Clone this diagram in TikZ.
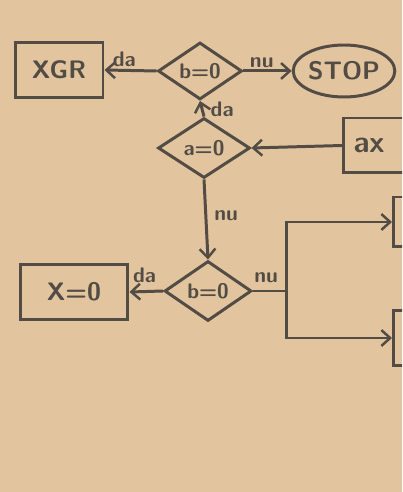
\documentclass[tikz,border=0pt]{standalone}
\usepackage{tikz}
\usetikzlibrary{arrows.meta,positioning,calc,shapes.geometric}
\usepackage{xcolor}
\definecolor{Paper}{HTML}{E2C59F}
\definecolor{Pencil}{HTML}{524C44}

\begin{document}
\begin{tikzpicture}[x=0.02cm,y=-0.02cm,
  line width=1.7pt,draw=Pencil,text=Pencil,
  >={Straight Barb[length=5pt,width=9pt,line width=1.4pt]},
  box/.style={draw,rectangle,inner sep=0pt,font=\sffamily\bfseries\Large},
  test/.style={draw,diamond,inner sep=0pt,font=\sffamily\bfseries\large},
  lab/.style={font=\sffamily\bfseries\large,inner sep=1pt}]
\fill[Paper] (0,0) rectangle (402,492);
\useasboundingbox (0,0) rectangle (402,492);
\clip (0,0) rectangle (402,492);
% top row
\node[box,minimum width=1.76cm,minimum height=1.1cm] (xgr) at (59,70) {XGR};
\node[test,minimum width=1.68cm,minimum height=1.14cm] (bt) at (200,71) {b=0};
\node[draw,ellipse,inner sep=0pt,minimum width=1.76cm,minimum height=1.04cm,font=\sffamily\bfseries\Large] (stop) at (344,71) {STOP};
% middle
\node[test,minimum width=1.84cm,minimum height=1.2cm] (az) at (204,148) {a=0};
\node[box,anchor=west,text width=1.6cm,align=left,inner xsep=0.2cm,minimum height=1.1cm,font=\sffamily\bfseries\LARGE] (ax) at (342,145.5) {ax};
% bottom
\node[test,minimum width=1.74cm,minimum height=1.2cm] (bb) at (208,291) {b=0};
\node[box,minimum width=2.16cm,minimum height=1.1cm] (xz) at (74,292) {X=0};
\node[box,anchor=west,minimum width=2cm,minimum height=1.0cm] (ra) at (392,222) {};
\node[box,anchor=west,minimum width=2cm,minimum height=1.1cm] (rb) at (392,338) {};
\coordinate (sp) at (286,291);
% connectors
\draw[->] (bt.west) -- node[lab,pos=0.62,above] {da} (xgr.east);
\draw[->] (bt.east) -- node[lab,pos=0.38,above] {nu} (stop.west);
\draw[->] (az.north) -- node[lab,pos=0.45,right=3pt] {da} (bt.south);
\draw[->] (ax.west) -- (az.east);
\draw[->] (az.south) -- node[lab,pos=0.45,right=3pt] {nu} (bb.north);
\draw[->] (bb.west) -- node[lab,pos=0.55,above=3pt] {da} (xz.east);
\draw (bb.east) -- node[lab,pos=0.4,above=3pt] {nu} (sp);
\draw[->] (sp) |- (ra.west);
\draw[->] (sp) |- (rb.west);
\end{tikzpicture}
\end{document}
